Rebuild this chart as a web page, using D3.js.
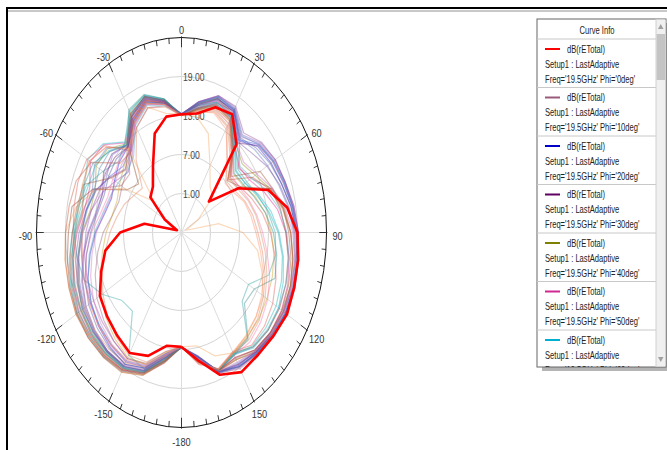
<!DOCTYPE html>
<html>
<head>
<meta charset="utf-8">
<script src="https://cdn.jsdelivr.net/npm/d3@7"></script>
<style>
  body { margin: 0; background: #fff; }
  text { font-family: Arial, "Liberation Sans", sans-serif; }
</style>
</head>
<body>
<svg id="chart" width="667" height="450"></svg>
<script>
// theta sweep (deg) shared by all traces
var thetaDeg = [-180,-170,-160,-150,-140,-130,-120,-110,-100,-90,-80,-70,-60,-50,-40,-30,-20,-10,
    0,10,20,30,40,50,60,70,80,90,100,110,120,130,140,150,160,170,180];

var ringValues = [1, 7, 13, 19];
var angleTicks = [0, 30, 60, 90, 120, 150, 180, 210, 240, 270, 300, 330];
var angleLabels = ["0", "30", "60", "90", "120", "150", "-180", "-150", "-120", "-90", "-60", "-30"];

// dB(rETotal) per phi cut
var dbPhi0 = [12.6,12.7,15.2,16.4,15.7,15.1,14.5,12.7,11.0,7.7,2.8,-4.0,-1.0,3.4,4.2,6.8,11.2,13.1,
    13.2,13.6,15.5,16.0,12.7,2.4,8.6,14.1,17.2,19.0,19.5,19.8,20.2,19.8,19.6,19.8,18.3,15.0,12.6];
var dbPhi10 = [12.6,13.6,16.4,17.4,16.8,16.0,15.2,14.0,12.6,11.2,9.6,8.8,9.2,9.8,11.2,13.6,15.4,14.8,
    13.1,14.4,16.2,16.6,13.8,10.4,11.6,14.8,17.2,18.6,19.3,19.7,19.9,19.7,19.4,19.2,18.0,14.6,12.6];
var dbPhi20 = [12.7,14.2,17.2,18.4,18.0,17.4,16.6,15.6,14.2,12.8,11.2,10.4,11.0,11.8,12.2,14.6,16.2,15.2,
    13.2,15.0,16.9,16.6,13.4,15.6,16.4,17.0,18.0,18.8,19.4,19.8,19.9,19.7,19.2,18.8,17.8,14.4,12.7];
var dbPhi30 = [12.6,14.6,17.6,18.8,18.8,18.4,17.8,16.8,15.6,14.2,12.8,12.4,13.6,13.8,12.6,15.2,16.6,15.4,
    13.3,15.2,17.0,16.4,13.0,15.8,16.8,17.4,18.3,19.0,19.5,19.9,20.0,19.6,19.0,18.4,17.7,14.5,12.6];
var dbPhi40 = [12.7,14.9,17.9,19.1,19.3,19.2,18.8,17.8,16.8,15.6,14.2,14.0,15.4,15.0,12.8,15.6,16.9,15.5,
    13.2,15.1,16.9,16.0,12.6,11.4,12.6,14.6,16.4,17.6,18.4,19.0,19.3,19.2,18.8,17.6,17.7,14.8,12.7];
var dbPhi50 = [12.6,15.0,18.0,19.4,19.7,19.7,19.5,18.8,17.8,16.6,15.4,15.2,16.8,16.0,13.0,15.6,17.0,15.6,
    13.2,14.8,16.6,15.8,12.2,10.6,11.2,13.2,15.2,16.6,17.6,18.4,18.9,19.0,18.6,17.2,17.6,15.0,12.7];
var dbPhi60 = [12.7,15.2,18.2,19.6,19.9,20.0,20.0,19.4,18.6,17.6,16.6,16.4,17.4,16.2,13.2,16.0,17.3,15.8,
    13.1,14.6,16.3,15.6,12.0,9.6,10.2,12.0,13.8,15.2,16.4,17.4,18.2,18.4,18.2,16.6,17.5,15.2,12.6];
var dbPhi70 = [12.6,15.3,18.4,19.8,20.1,20.2,20.0,19.6,19.0,18.4,18.0,14.5,8.1,6.6,11.8,16.0,17.2,15.6,
    13.0,14.4,16.0,15.4,11.8,7.4,9.1,14.6,15.8,16.6,17.4,18.0,18.4,18.4,18.0,16.4,17.4,15.4,12.6];
var dbPhi80 = [12.6,15.4,18.2,19.4,19.6,19.4,19.0,18.4,17.8,17.4,17.6,17.8,17.6,15.8,11.4,14.2,16.0,15.0,
    13.0,14.0,15.2,14.4,11.0,8.2,9.0,10.4,12.0,13.4,14.6,15.8,16.8,17.4,17.6,16.2,17.3,15.6,12.6];
var dbPhi90 = [12.7,14.0,17.0,18.0,17.6,17.2,16.8,16.4,16.0,15.6,15.0,13.8,12.2,10.8,11.6,14.8,16.4,15.2,
    13.2,15.3,17.2,16.8,13.6,16.0,17.0,17.6,18.4,19.2,19.6,19.9,19.8,19.4,19.0,18.6,17.8,14.3,12.6];
var dbPhi100 = [12.6,13.9,16.6,17.4,16.8,16.4,16.0,15.8,15.4,14.8,14.0,12.6,10.8,9.4,10.8,14.4,16.2,15.0,
    13.2,15.4,17.3,17.0,14.2,16.2,17.2,17.8,18.6,19.2,19.4,19.6,19.4,19.0,18.8,18.6,17.9,14.2,12.7];
var dbPhi110 = [12.7,14.4,17.4,16.8,10.8,11.2,14.0,16.4,17.0,17.2,16.8,16.0,13.8,12.0,13.2,16.6,17.4,15.8,
    13.1,14.8,16.4,15.8,12.4,10.2,10.6,11.8,13.2,14.4,14.8,14.2,11.0,11.4,16.2,16.6,17.5,15.0,12.6];
var dbPhi120 = [12.6,13.8,16.6,17.2,16.4,15.4,14.2,12.8,11.6,10.6,9.6,9.2,9.8,10.6,11.8,14.6,16.2,15.0,
    13.1,14.2,15.6,15.0,11.4,9.0,9.6,11.2,12.6,13.6,14.4,15.0,15.4,15.8,16.0,16.4,17.6,15.2,12.6];
var dbPhi130 = [12.6,14.2,17.0,18.0,17.8,17.4,16.8,16.0,15.0,13.6,12.0,11.2,11.4,12.0,12.4,15.0,16.6,15.3,
    13.2,14.6,16.0,15.2,11.6,8.6,8.8,9.8,10.8,11.8,13.0,14.4,15.6,16.4,17.0,16.8,17.6,15.2,12.6];
var dbPhi140 = [12.7,14.6,17.6,18.8,18.8,18.6,18.2,17.4,16.6,15.8,15.0,14.6,15.8,15.2,12.2,15.8,17.0,15.5,
    13.2,15.2,17.1,16.8,13.8,14.8,15.6,16.4,17.4,18.2,18.8,19.2,19.4,19.2,18.8,18.2,17.8,14.6,12.6];
var dbPhi150 = [12.6,15.0,17.8,19.2,19.4,19.4,19.2,18.6,17.8,16.8,15.6,14.4,9.4,9.0,12.0,15.6,16.9,15.4,
    13.1,14.4,15.8,15.2,11.8,8.0,8.6,14.8,16.6,17.6,18.4,19.0,19.2,19.0,18.6,17.4,17.6,15.0,12.7];
var dbPhi160 = [12.6,14.8,17.8,19.0,19.0,18.6,18.0,17.0,15.8,14.4,13.0,12.4,12.8,13.6,12.6,15.4,16.8,15.4,
    13.2,15.4,17.4,17.2,14.6,16.4,17.4,17.8,18.4,18.8,19.2,19.6,19.8,19.6,19.2,19.0,18.0,14.4,12.6];
var dbPhi170 = [12.6,14.0,16.8,17.8,17.6,17.2,16.6,15.6,14.4,13.0,11.6,10.8,10.2,9.6,10.4,14.0,15.8,14.8,
    13.0,14.2,15.8,15.6,12.8,10.8,11.8,13.8,15.6,16.8,17.6,18.0,18.2,18.2,18.0,16.8,17.6,15.0,12.6];
var dbPhi180 = [12.6,15.0,18.3,19.8,19.6,19.8,20.2,19.8,19.5,19.0,17.2,14.1,8.6,2.4,12.7,16.0,15.5,13.6,
    13.2,13.1,11.2,6.8,4.2,3.4,-1.0,-4.0,2.8,7.7,11.0,12.7,14.5,15.1,15.7,16.4,15.2,12.7,12.6];
var dbPhi190 = [12.6,14.4,17.0,18.2,18.4,18.4,18.2,17.8,17.4,17.0,16.6,16.8,17.0,15.4,12.0,15.0,16.6,15.2,
    13.0,14.0,15.0,14.0,10.6,7.8,8.4,9.6,10.6,11.4,12.6,13.8,15.0,16.0,16.6,16.4,17.4,15.4,12.6];
var dbPhi200 = [12.7,14.6,17.6,18.8,19.0,18.8,18.4,17.6,16.6,15.4,14.0,13.2,13.2,13.0,12.2,15.2,16.8,15.4,
    13.2,15.4,17.4,17.4,15.0,16.6,17.4,17.8,18.6,19.2,19.6,20.0,20.2,19.9,19.4,18.9,17.9,14.4,12.6];
var dbPhi210 = [12.6,14.8,17.8,19.0,19.2,19.2,19.0,18.6,18.0,17.2,16.2,15.6,15.6,14.6,12.6,16.4,17.5,15.9,
    13.1,14.8,16.4,15.6,12.2,9.8,10.2,11.6,13.4,15.0,16.2,17.0,17.6,17.8,17.8,16.6,17.6,15.2,12.6];
var dbPhi220 = [12.6,15.2,18.2,19.6,20.0,20.2,20.2,19.8,19.4,19.0,18.6,18.2,16.6,11.6,11.2,15.0,16.6,15.2,
    13.0,14.2,15.4,14.8,11.2,7.6,12.0,14.4,16.2,17.6,18.4,19.0,19.4,19.4,19.0,17.6,17.6,15.2,12.6];
var dbPhi230 = [12.7,14.2,17.2,18.4,18.2,17.8,17.2,16.2,15.0,13.8,12.6,12.0,12.4,12.6,12.2,14.8,16.4,15.2,
    13.2,15.0,16.8,16.8,14.0,15.2,16.2,17.0,18.0,18.8,19.4,19.8,20.0,19.8,19.3,18.8,17.8,14.4,12.6];
var dbPhi240 = [12.6,13.6,16.2,16.8,16.0,15.0,13.8,12.4,11.0,9.8,8.6,7.6,6.4,5.6,9.6,13.6,15.4,14.6,
    13.0,13.8,14.8,13.8,9.6,7.2,7.8,9.0,10.0,10.8,12.0,13.4,14.6,15.6,16.2,16.4,17.4,15.2,12.6];
var dbPhi250 = [12.6,14.5,17.4,18.6,18.8,18.8,18.6,18.0,17.2,16.2,15.0,14.0,12.0,10.2,11.4,15.6,17.3,15.6,
    13.1,14.9,16.7,16.2,13.2,14.0,15.4,16.6,17.6,18.4,19.0,19.4,19.6,19.4,19.0,18.4,17.8,14.6,12.6];
var dbPhi260 = [12.6,15.1,18.0,19.2,19.4,19.6,19.6,19.0,18.2,17.0,15.8,16.4,16.2,14.4,12.4,16.8,17.6,15.9,
    13.1,14.5,16.1,15.4,11.6,9.2,9.8,11.0,12.6,14.0,15.0,15.6,12.4,12.0,16.4,16.8,17.6,15.2,12.6];
var dbPhi270 = [12.6,15.0,18.0,19.4,19.8,19.9,19.8,19.2,18.4,17.6,17.0,16.6,11.8,10.0,12.4,16.2,17.2,15.7,
    13.0,14.3,15.8,15.0,11.4,8.4,13.8,15.0,16.4,17.2,18.0,18.6,19.0,19.0,18.6,17.2,17.6,15.2,12.6];
var dbPhi280 = [12.6,14.0,16.8,17.8,17.4,16.8,16.0,15.0,13.8,12.6,11.4,10.6,10.8,11.2,11.6,14.4,16.0,15.0,
    13.1,14.6,16.4,16.0,12.8,11.8,13.0,15.0,16.8,18.0,18.8,19.2,19.4,19.2,18.8,18.0,17.7,14.7,12.6];
var dbPhi290 = [12.7,14.7,17.7,18.9,19.0,18.9,18.6,17.8,16.8,15.8,14.8,14.2,14.6,14.4,12.6,15.8,17.1,15.6,
    13.2,15.3,17.2,17.0,14.4,16.0,17.0,17.6,18.2,18.8,19.2,19.6,19.8,19.6,19.2,18.8,17.9,14.4,12.6];
var dbPhi300 = [12.6,14.2,16.6,17.6,17.6,17.4,17.0,16.4,15.8,15.6,15.8,16.6,17.0,15.4,11.8,14.6,16.2,15.0,
    13.0,13.9,14.6,13.4,9.8,6.8,7.4,8.8,9.6,10.4,11.6,13.0,14.2,15.2,15.8,16.2,17.4,15.4,12.6];

var bgCurves = [dbPhi10, dbPhi20, dbPhi30, dbPhi40, dbPhi50, dbPhi60, dbPhi70, dbPhi80, dbPhi90,
    dbPhi100, dbPhi110, dbPhi120, dbPhi130, dbPhi140, dbPhi150, dbPhi160, dbPhi170, dbPhi180,
    dbPhi190, dbPhi200, dbPhi210, dbPhi220, dbPhi230, dbPhi240, dbPhi250, dbPhi260, dbPhi270,
    dbPhi280, dbPhi290, dbPhi300];
var bgColors = ["#9a5a7a", "#1a1ad0", "#6a1a7a", "#8a8a10", "#e0208a", "#10b0c8", "#8b3a1a", "#e05050",
    "#3050e0", "#a050b0", "#30a0a0", "#c8a020", "#ff70b0", "#6070c0", "#b06060", "#7a60d0", "#50a0c0",
    "#f4a460", "#d09060", "#904090", "#20b0b0", "#c05030", "#5050a0", "#e08060", "#7a4a9a", "#2f8f8f",
    "#a0522d", "#d070c0", "#4682b4", "#ff8c69"];

var legendPhi = ["0deg", "10deg", "20deg", "30deg", "40deg", "50deg", "60deg"];
var legendColors = ["#ff0000", "#9a5a7a", "#0000c8", "#600060", "#808000", "#d02890", "#00b0d0"];

var svg = d3.select("#chart");
var cx = 181.5, cy = 232.5, rx = 145, ry = 195;

var rScale = d3.scaleLinear().domain([-5, 25]).range([0, 1]).clamp(true);
var aScale = d3.scaleLinear().domain([-180, 180]).range([-Math.PI, Math.PI]);

function px(theta, r) { return cx + rx * r * Math.sin(aScale(theta)); }
function py(theta, r) { return cy - ry * r * Math.cos(aScale(theta)); }

function sqText(g, x, y, str, size, sx, anchor, fill) {
    return g.append("text")
        .attr("transform", "translate(" + x + "," + y + ") scale(" + sx + ",1)")
        .attr("text-anchor", anchor)
        .attr("dy", "0.35em")
        .style("font-size", size + "px")
        .style("fill", fill)
        .text(str);
}

// frame
svg.append("line").attr("x1", 6).attr("x2", 667).attr("y1", 8).attr("y2", 8)
    .attr("stroke", "#000").attr("stroke-width", 2);
svg.append("line").attr("x1", 8).attr("x2", 667).attr("y1", 11).attr("y2", 11)
    .attr("stroke", "#777").attr("stroke-width", 0.8);
svg.append("line").attr("x1", 7).attr("x2", 7).attr("y1", 7).attr("y2", 450)
    .attr("stroke", "#000").attr("stroke-width", 2);

var plot = svg.append("g");

// grid rings
plot.selectAll(".ring").data(ringValues).enter().append("ellipse")
    .attr("cx", cx).attr("cy", cy)
    .attr("rx", function(d) { return rx * rScale(d); })
    .attr("ry", function(d) { return ry * rScale(d); })
    .attr("fill", "none").attr("stroke", "#d4d4d4").attr("stroke-width", 1);

// spokes
plot.selectAll(".spoke").data(angleTicks).enter().append("line")
    .attr("x1", cx).attr("y1", cy)
    .attr("x2", function(d) { return px(d, 1); })
    .attr("y2", function(d) { return py(d, 1); })
    .attr("stroke", "#dcdcdc").attr("stroke-width", 1);

// ring labels
ringValues.forEach(function(v) {
    sqText(plot, cx + 1.5, py(0, rScale(v)), v.toFixed(2), 11.5, 0.75, "start", "#444");
});

// traces
var line = d3.line()
    .x(function(d, i) { return px(thetaDeg[i], rScale(d)); })
    .y(function(d, i) { return py(thetaDeg[i], rScale(d)); });

plot.selectAll(".bg").data(bgCurves).enter().append("path")
    .attr("d", line)
    .attr("fill", "none")
    .attr("stroke", function(d, i) { return bgColors[i]; })
    .attr("stroke-width", 1.2)
    .attr("stroke-opacity", 0.42);

plot.append("path")
    .datum(dbPhi0)
    .attr("d", line)
    .attr("fill", "none")
    .attr("stroke", "#ff0000")
    .attr("stroke-width", 2.6)
    .attr("stroke-linejoin", "round");

// outer scale
plot.append("ellipse").attr("cx", cx).attr("cy", cy).attr("rx", rx).attr("ry", ry)
    .attr("fill", "none").attr("stroke", "#111").attr("stroke-width", 1);

plot.selectAll(".tick").data(d3.range(0, 360, 5)).enter().append("line")
    .attr("x1", function(d) { return px(d, d % 30 == 0 ? 1.006 : 1); })
    .attr("y1", function(d) { return py(d, d % 30 == 0 ? 1.006 : 1); })
    .attr("x2", function(d) { return px(d, d % 30 == 0 ? 0.95 : 0.97); })
    .attr("y2", function(d) { return py(d, d % 30 == 0 ? 0.95 : 0.97); })
    .attr("stroke", "#222").attr("stroke-width", 0.9);

// angle labels
angleTicks.forEach(function(a, i) {
    var x = cx + (rx + 11) * Math.sin(aScale(a));
    var y = cy - (ry + 11) * Math.cos(aScale(a)) + 3;
    sqText(plot, x, y, angleLabels[i], 11.5, 0.8, "middle", "#333");
});

// legend
var lg = svg.append("g");
var lx = 537, ly = 19, lw = 129, lh = 348;
lg.append("rect").attr("x", lx + 5).attr("y", ly + 4).attr("width", lw).attr("height", lh)
    .attr("fill", "#b4b4b4");
lg.append("rect").attr("x", lx).attr("y", ly).attr("width", lw).attr("height", lh)
    .attr("fill", "#fff").attr("stroke", "#666").attr("stroke-width", 1);

svg.append("clipPath").attr("id", "lgclip").append("rect")
    .attr("x", lx).attr("y", ly).attr("width", lw - 10).attr("height", lh);

var inner = lg.append("g").attr("clip-path", "url(#lgclip)");
sqText(inner, 597, 30, "Curve Info", 10, 0.76, "middle", "#222");
inner.append("line").attr("x1", lx).attr("x2", lx + lw - 10).attr("y1", 39).attr("y2", 39)
    .attr("stroke", "#c8c8c8");

legendPhi.forEach(function(p, k) {
    var y0 = 49 + 48.5 * k;
    inner.append("line").attr("x1", 545).attr("x2", 560).attr("y1", y0).attr("y2", y0)
        .attr("stroke", legendColors[k]).attr("stroke-width", 2);
    sqText(inner, 567, y0, "dB(rETotal)", 10, 0.76, "start", "#222");
    sqText(inner, 545, y0 + 15, "Setup1 : LastAdaptive", 10, 0.76, "start", "#222");
    sqText(inner, 545, y0 + 30, "Freq='19.5GHz' Phi='" + p + "'", 10, 0.76, "start", "#222");
    inner.append("line").attr("x1", lx).attr("x2", lx + lw - 10)
        .attr("y1", y0 + 38.5).attr("y2", y0 + 38.5).attr("stroke", "#c8c8c8");
});

// scrollbar
var sbx = lx + lw - 10;
lg.append("rect").attr("x", sbx).attr("y", ly + 0.5).attr("width", 9.5).attr("height", lh - 1)
    .attr("fill", "#f0f0f0");
lg.append("rect").attr("x", sbx + 0.5).attr("y", 34).attr("width", 8.5).attr("height", 46)
    .attr("fill", "#c4c4c4");
lg.append("path").attr("d", "M" + (sbx + 2) + "," + 29 + "L" + (sbx + 7.5) + "," + 29 + "L" + (sbx + 4.75) + "," + 24 + "Z")
    .attr("fill", "#a0a0a0");
lg.append("path").attr("d", "M" + (sbx + 2) + "," + 357 + "L" + (sbx + 7.5) + "," + 357 + "L" + (sbx + 4.75) + "," + 362 + "Z")
    .attr("fill", "#a0a0a0");
lg.append("line").attr("x1", sbx).attr("x2", sbx).attr("y1", ly).attr("y2", ly + lh)
    .attr("stroke", "#d0d0d0");
</script>
</body>
</html>
